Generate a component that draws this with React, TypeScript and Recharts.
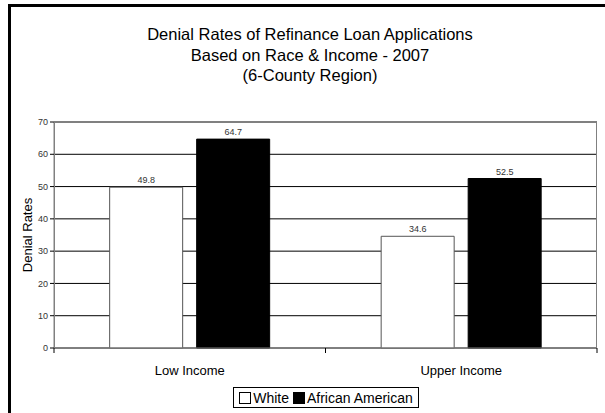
import { Bar, BarChart, CartesianGrid, LabelList, XAxis, YAxis } from "recharts";

const categories = ["Low Income", "Upper Income"];
const whiteRates = [49.8, 34.6];
const africanAmericanRates = [64.7, 52.5];
const yTicks = [0, 10, 20, 30, 40, 50, 60, 70];
const titleLines = [
  "Denial Rates of Refinance Loan Applications",
  "Based on Race & Income - 2007",
  "(6-County Region)",
];
const seriesNames = ["White", "African American"];
const seriesFills = ["#FFFFFF", "#000000"];

const data = categories.map((name, i) => ({
  name,
  white: whiteRates[i],
  black: africanAmericanRates[i],
}));

const font = "'Liberation Sans', Arial, sans-serif";

function CategoryTick(props: any) {
  const { x, y, payload, index, visibleTicksCount } = props;
  const half = payload?.offset ?? 0;
  const last = index === visibleTicksCount - 1;
  return (
    <g>
      <line x1={x - half} x2={x - half} y1={y} y2={y + 5} stroke="#000" />
      {last && <line x1={x + half} x2={x + half} y1={y} y2={y + 5} stroke="#000" />}
      <text x={x} y={y + 27} textAnchor="middle" fontSize={13} fill="#000" fontFamily={font}>
        {payload.value}
      </text>
    </g>
  );
}

export default function App() {
  return (
    <div
      style={{
        position: "absolute",
        left: 0,
        top: 0,
        width: 605,
        height: 413,
        overflow: "hidden",
        background: "#fff",
        fontFamily: font,
      }}
    >
      {/* outer chart frame, only left and top edges are visible in the crop */}
      <div
        style={{
          position: "absolute",
          left: 8,
          top: 4,
          width: 650,
          height: 450,
          borderLeft: "3px solid #000",
          borderTop: "3px solid #000",
        }}
      />
      <div
        style={{
          position: "absolute",
          left: 110,
          top: 24,
          width: 400,
          textAlign: "center",
          fontSize: 16.5,
          lineHeight: "20.5px",
          color: "#000",
        }}
      >
        {titleLines.map((t) => (
          <div key={t}>{t}</div>
        ))}
      </div>
      <div style={{ position: "absolute", left: 0, top: 0 }}>
        <BarChart
          width={605}
          height={413}
          data={data}
          margin={{ top: 122, right: 8, left: 14, bottom: 35 }}
          barCategoryGap="20.5%"
          barGap={14}
        >
          <CartesianGrid vertical={false} stroke="#000" strokeOpacity={1} />
          <XAxis
            dataKey="name"
            height={30}
            tickLine={false}
            tickSize={0}
            tickMargin={0}
            axisLine={{ stroke: "#808080" }}
            tick={<CategoryTick />}
            interval={0}
          />
          <YAxis
            width={40}
            domain={[0, 70]}
            ticks={yTicks}
            interval={0}
            tickSize={4}
            tickMargin={2}
            axisLine={{ stroke: "#808080" }}
            tickLine={{ stroke: "#000" }}
            tick={{ fontSize: 9, fill: "#333", fontFamily: font }}
            label={{
              value: "Denial Rates",
              angle: -90,
              position: "insideLeft",
              dx: 8,
              style: { fontSize: 13, fill: "#000", fontFamily: font, textAnchor: "middle" },
            }}
          />
          <Bar
            dataKey="white"
            name={seriesNames[0]}
            fill={seriesFills[0]}
            stroke="#555"
            strokeWidth={1}
            isAnimationActive={false}
          >
            <LabelList dataKey="white" position="top" offset={4} fontSize={9} fill="#333" fontFamily={font} />
          </Bar>
          <Bar
            dataKey="black"
            name={seriesNames[1]}
            fill={seriesFills[1]}
            stroke="#000"
            isAnimationActive={false}
          >
            <LabelList dataKey="black" position="top" offset={4} fontSize={9} fill="#333" fontFamily={font} />
          </Bar>
        </BarChart>
      </div>
      <div
        style={{
          position: "absolute",
          left: 54,
          top: 122,
          width: 543,
          height: 226,
          border: "1px solid #808080",
          borderBottom: "none",
          boxSizing: "border-box",
          pointerEvents: "none",
        }}
      />
      <div
        style={{
          position: "absolute",
          left: 233,
          top: 387,
          width: 186,
          height: 21,
          border: "1px solid #000",
          boxSizing: "border-box",
          display: "flex",
          alignItems: "center",
          justifyContent: "center",
          fontSize: 14,
          background: "#fff",
        }}
      >
        {seriesNames.map((n, i) => (
          <span key={n} style={{ display: "flex", alignItems: "center", marginRight: i === 0 ? 4 : 0 }}>
            <span
              style={{
                display: "inline-block",
                width: 10,
                height: 10,
                border: "1px solid #000",
                background: seriesFills[i],
                marginRight: 2,
              }}
            />
            {n}
          </span>
        ))}
      </div>
    </div>
  );
}
